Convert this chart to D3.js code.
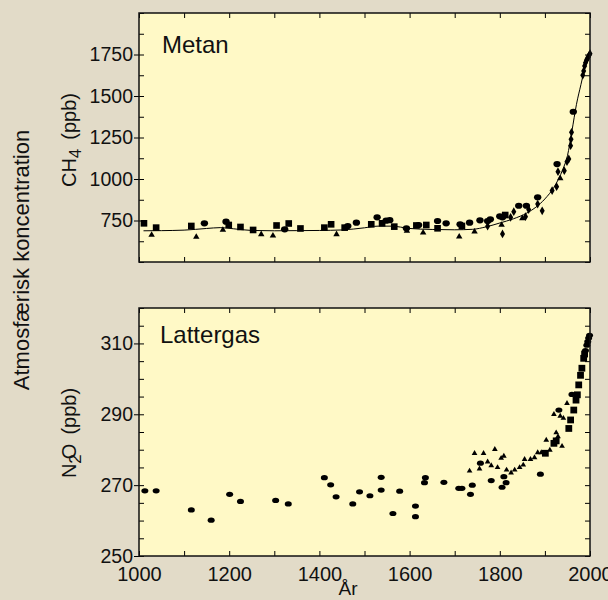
<!DOCTYPE html>
<html>
<head>
<meta charset="utf-8">
<script src="https://cdn.jsdelivr.net/npm/d3@7"></script>
<style>
body{margin:0;background:#e2dbc8;}
svg{display:block;font-family:"Liberation Sans",Arial,sans-serif;}
</style>
</head>
<body>
<div id="chart"></div>
<script>
// tick labels
const yearTicks = [1000,1200,1400,1600,1800,2000];
const ch4Ticks = [750,1000,1250,1500,1750];
const n2oTicks = [250,270,290,310];

// metan (ppb), [year, value]
const ch4Squares = [[1011,733],[1038,707],[1116,717],[1199,723],[1225,711],[1253,693],[1305,720],[1332,732],[1358,702],[1411,707],[1426,727],[1456,707],[1515,727],[1539,733],[1566,713],[1615,720],[1637,723],[1662,703],[1716,717],[1812,783]];
const ch4Triangles = [[1028,663],[1127,651],[1186,693],[1271,667],[1297,659],[1438,667],[1594,687],[1630,677],[1710,653],[1744,683],[1804,723],[1850,763],[1934,1004]];
const ch4Circles = [[1145,733],[1193,743],[1323,697],[1463,717],[1482,737],[1528,769],[1548,749],[1556,752],[1593,703],[1620,723],[1662,747],[1681,733],[1712,727],[1733,737],[1756,751],[1773,747],[1779,757],[1800,775],[1806,769],[1842,839],[1859,839],[1884,890],[1927,1090],[1963,1405]];
const ch4Diamonds = [[1773,716],[1806,669],[1824,769],[1831,803],[1857,773],[1864,816],[1884,849],[1894,808],[1916,930],[1926,954],[1929,1044],[1943,1050],[1949,1104],[1953,1121],[1957,1201],[1958,1239],[1959,1281],[1984,1625],[1986,1650],[1988,1680],[1990,1700],[1992,1715],[1994,1725],[1996,1735],[1998,1745],[2000,1755]];
const ch4Curve = [[1010,688],[1050,689],[1100,692],[1150,702],[1180,707],[1210,700],[1250,690],[1300,688],[1350,689],[1400,690],[1450,693],[1500,706],[1530,716],[1560,716],[1600,702],[1650,696],[1700,694],[1740,697],[1770,712],[1800,735],[1830,760],[1860,795],[1880,830],[1900,880],[1920,950],[1940,1060],[1950,1140],[1960,1290],[1970,1450],[1980,1570],[1985,1630],[1990,1690],[1995,1730],[2000,1760]];

// lattergas (ppb)
const n2oCircles = [[1013,268.4],[1038,268.4],[1116,263],[1160,260.1],[1201,267.4],[1225,265.4],[1303,265.7],[1331,264.7],[1411,272.1],[1425,270.1],[1437,266.7],[1474,264.7],[1489,268.1],[1512,267],[1537,272.2],[1537,268.6],[1563,262],[1578,268.3],[1613,264.1],[1613,261.1],[1633,270.7],[1635,272.1],[1676,270.8],[1709,269.1],[1716,269.1],[1735,267.4],[1739,270],[1757,276.2],[1781,271.3],[1805,269.4],[1809,272.4],[1814,270.7],[1890,273.1],[1931,291.2],[1960,295.6],[1990,308],[1993,309.5],[1995,310.5],[1997,311.5],[1999,312.3]];
const n2oTriangles = [[1733,274],[1744,279],[1755,274.6],[1764,279],[1773,276.6],[1781,275.5],[1789,280.1],[1795,275],[1803,277.6],[1809,278.2],[1815,274.3],[1825,273.5],[1833,274.3],[1844,275],[1852,275.7],[1855,277.3],[1868,277.3],[1877,277.8],[1884,279.2],[1892,279.2],[1903,282.7],[1911,279.9],[1920,290],[1925,284.8],[1929,283.7],[1934,289.5],[1938,281],[1941,288.9],[1949,293.1]];
const n2oSquares = [[1901,279],[1920,281.8],[1925,282.5],[1953,286],[1957,288.4],[1964,291.2],[1969,294],[1972,295.5],[1975,298.3],[1979,301],[1982,303],[1986,305.8],[1988,307]];

const svgWidth = 608, svgHeight = 600;

const svg = d3.select("#chart")
    .append("svg")
    .attr("width", svgWidth)
    .attr("height", svgHeight);

const xscale = d3.scaleLinear().domain([1000,2000]).range([139,590]);
const yCH4 = d3.scaleLinear().domain([500,2000]).range([262,13]);
const yN2O = d3.scaleLinear().domain([250,320]).range([556,308]);

function noDomain(g){ g.select(".domain").remove(); }

function drawPanel(yscale, minorStep, majorTicks){
    const top = yscale.range()[1], bottom = yscale.range()[0];
    const left = xscale.range()[0], right = xscale.range()[1];
    const d = yscale.domain();

    svg.append("rect")
        .attr("x", left).attr("y", top)
        .attr("width", right-left).attr("height", bottom-top)
        .style("fill", "#fff9c6");

    const years = d3.range(1000, 2001, 100);
    const minor = d3.range(d[0], d[1]+0.001, minorStep);

    // inward ticks on all four sides
    svg.append("g").attr("transform","translate(0,"+bottom+")")
        .call(d3.axisBottom(xscale).tickValues(years).tickSize(-5).tickFormat(""))
        .call(noDomain);
    svg.append("g").attr("transform","translate(0,"+top+")")
        .call(d3.axisTop(xscale).tickValues(years).tickSize(-5).tickFormat(""))
        .call(noDomain);
    svg.append("g").attr("transform","translate("+left+",0)")
        .call(d3.axisLeft(yscale).tickValues(minor).tickSize(-5).tickFormat(""))
        .call(noDomain);
    svg.append("g").attr("transform","translate("+right+",0)")
        .call(d3.axisRight(yscale).tickValues(minor).tickSize(-5).tickFormat(""))
        .call(noDomain);

    // labelled ticks
    svg.append("g").attr("transform","translate("+left+",0)")
        .call(d3.axisLeft(yscale).tickValues(majorTicks).tickFormat(d3.format("d"))
            .tickSizeInner(5).tickSizeOuter(0).tickPadding(1))
        .call(noDomain)
        .selectAll("text")
        .style("font-size","19.5px")
        .style("font-family","'Liberation Sans',Arial,sans-serif")
        .style("fill","#111");
}

function drawFrame(yscale){
    const top = yscale.range()[1], bottom = yscale.range()[0];
    svg.append("rect")
        .attr("x", xscale.range()[0]).attr("y", top)
        .attr("width", xscale.range()[1]-xscale.range()[0]).attr("height", bottom-top)
        .style("fill","none")
        .style("stroke","#111")
        .style("stroke-width",1.5);
}

function drawSymbols(data, yscale, type, size){
    svg.append("g")
        .selectAll("path")
        .data(data)
        .enter()
        .append("path")
        .attr("transform", function(d){ return "translate("+xscale(d[0])+","+yscale(d[1])+")"; })
        .attr("d", d3.symbol().type(type).size(size))
        .style("fill","#000");
}

function drawDots(data, yscale, rx, ry){
    svg.append("g")
        .selectAll("ellipse")
        .data(data)
        .enter()
        .append("ellipse")
        .attr("cx", function(d){ return xscale(d[0]); })
        .attr("cy", function(d){ return yscale(d[1]); })
        .attr("rx", rx)
        .attr("ry", ry)
        .style("fill","#000");
}

// Metan panel
drawPanel(yCH4, 125, ch4Ticks);

svg.append("path")
    .datum(ch4Curve)
    .attr("d", d3.line()
        .x(function(d){ return xscale(d[0]); })
        .y(function(d){ return yCH4(d[1]); })
        .curve(d3.curveMonotoneX))
    .style("fill","none")
    .style("stroke","#000")
    .style("stroke-width",1);

drawSymbols(ch4Squares, yCH4, d3.symbolSquare, 44);
drawSymbols(ch4Triangles, yCH4, d3.symbolTriangle, 18);
drawDots(ch4Circles, yCH4, 3.7, 3.1);
drawSymbols(ch4Diamonds, yCH4, d3.symbolDiamond, 22);
drawFrame(yCH4);

// Lattergas panel
drawPanel(yN2O, 5, n2oTicks);
drawDots(n2oCircles, yN2O, 3.5, 2.6);
drawSymbols(n2oTriangles, yN2O, d3.symbolTriangle, 14);
drawSymbols(n2oSquares, yN2O, d3.symbolSquare, 46);
drawFrame(yN2O);

// year labels
svg.append("g").attr("transform","translate(0,"+yN2O.range()[0]+")")
    .call(d3.axisBottom(xscale).tickValues(yearTicks).tickFormat(d3.format("d"))
        .tickSize(0).tickPadding(11))
    .call(noDomain)
    .selectAll("text")
    .style("font-size","20px")
    .style("font-family","'Liberation Sans',Arial,sans-serif")
    .style("fill","#111");

// panel names
svg.append("text").attr("x",162).attr("y",53)
    .style("font-size","24px").style("fill","#111").text("Metan");
svg.append("text").attr("x",160).attr("y",343)
    .style("font-size","24px").style("fill","#111").text("Lattergas");

// axis titles
svg.append("text")
    .attr("transform","translate(29,260) rotate(-90)")
    .attr("text-anchor","middle")
    .style("font-size","22px").style("fill","#111")
    .text("Atmosfærisk koncentration");

const ch4Label = svg.append("text")
    .attr("transform","translate(76,140) rotate(-90)")
    .attr("text-anchor","middle")
    .style("font-size","20px").style("fill","#111");
ch4Label.append("tspan").text("CH");
ch4Label.append("tspan").attr("dy",5).style("font-size","17px").text("4");
ch4Label.append("tspan").attr("dy",-5).attr("dx",9).text("(ppb)");

const n2oLabel = svg.append("text")
    .attr("transform","translate(76,433) rotate(-90)")
    .attr("text-anchor","middle")
    .style("font-size","20px").style("fill","#111");
n2oLabel.append("tspan").text("N");
n2oLabel.append("tspan").attr("dy",5).style("font-size","17px").text("2");
n2oLabel.append("tspan").attr("dy",-5).attr("dx",-5).text("O");
n2oLabel.append("tspan").attr("dx",9).text("(ppb)");

svg.append("text").attr("x",348).attr("y",595)
    .attr("text-anchor","middle")
    .style("font-size","19px").style("fill","#111")
    .text("År");
</script>
</body>
</html>
